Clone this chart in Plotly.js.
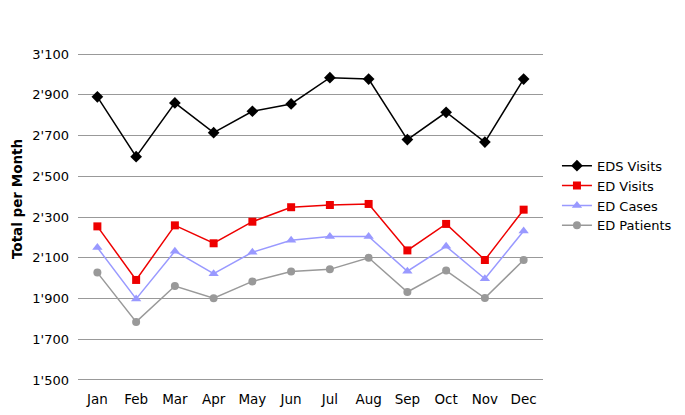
<!DOCTYPE html>
<html>
<head>
<meta charset="utf-8">
<script src="https://cdn.plot.ly/plotly-3.0.1.min.js"></script>
<style>
  html, body { margin: 0; padding: 0; background: #fff; }
  #chart { width: 685px; height: 415px; }
</style>
</head>
<body>
<div id="chart"></div>
<script>
const months = ['Jan', 'Feb', 'Mar', 'Apr', 'May', 'Jun', 'Jul', 'Aug', 'Sep', 'Oct', 'Nov', 'Dec'];
const edsVisits = [2890, 2596, 2860, 2714, 2819, 2855, 2984, 2977, 2680, 2814, 2668, 2977];
const edVisits = [2254, 1991, 2259, 2171, 2277, 2348, 2359, 2364, 2136, 2266, 2089, 2336];
const edCases = [2150, 1898, 2132, 2022, 2127, 2186, 2204, 2204, 2034, 2156, 1997, 2231];
const edPatients = [2027, 1785, 1961, 1901, 1984, 2032, 2043, 2100, 1932, 2037, 1902, 2089];
const yTicks = [1500, 1700, 1900, 2100, 2300, 2500, 2700, 2900, 3100];

function series(name, values, color, symbol, size) {
  return {
    x: months,
    y: values,
    name: name,
    type: 'scatter',
    mode: 'lines+markers',
    line: { color: color, width: 1.5 },
    marker: { color: color, symbol: symbol, size: size }
  };
}

const traces = [
  series('EDS Visits', edsVisits, '#000000', 'diamond', 9),
  series('ED Visits', edVisits, '#ee0000', 'square', 8),
  series('ED Cases', edCases, '#9999ff', 'triangle-up', 9),
  series('ED Patients', edPatients, '#999999', 'circle', 8)
];

// pad the range a little so the 1'500 and 3'100 gridlines are drawn
const layout = {
  width: 685,
  height: 415,
  margin: { l: 78, r: 142, t: 53, b: 34, autoexpand: false },
  paper_bgcolor: '#ffffff',
  plot_bgcolor: '#ffffff',
  separators: ".'",
  font: { family: 'DejaVu Sans, Verdana, sans-serif', size: 13, color: '#000' },
  showlegend: true,
  legend: {
    x: 1.03, xanchor: 'left',
    y: 0.565, yanchor: 'middle',
    font: { size: 13 },
    tracegroupgap: 0,
    itemwidth: 30
  },
  xaxis: {
    type: 'category',
    range: [-0.5, 11.5],
    showgrid: false,
    showline: false,
    zeroline: false,
    ticks: '',
    ticklabelstandoff: 8,
    tickfont: { size: 13.5 }
  },
  yaxis: {
    range: [1495, 3105],
    tickvals: yTicks,
    tickformat: ',d',
    showgrid: true,
    gridcolor: '#999999',
    gridwidth: 1,
    zeroline: false,
    showline: false,
    ticks: '',
    ticklabelstandoff: 8,
    tickfont: { size: 13 }
  },
  annotations: [{
    text: '<b>Total per Month</b>',
    xref: 'paper', yref: 'paper',
    x: -0.131, y: 0.555,
    xanchor: 'center', yanchor: 'middle',
    textangle: -90,
    showarrow: false,
    font: { size: 13.5 }
  }]
};

Plotly.newPlot('chart', traces, layout, { displayModeBar: false, staticPlot: true });
</script>
</body>
</html>
